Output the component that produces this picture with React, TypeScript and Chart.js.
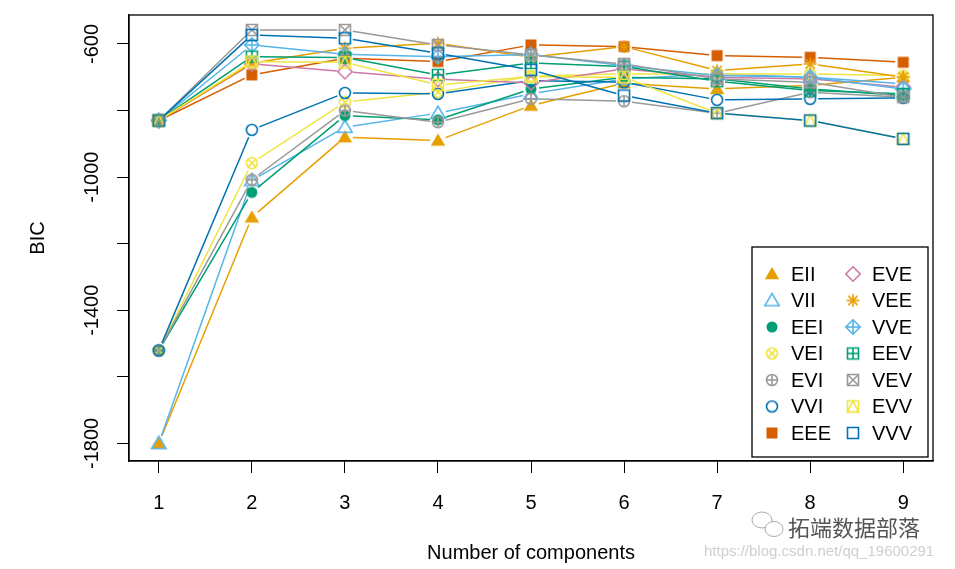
import { useEffect, useRef } from 'react'
import { Chart, registerables } from 'chart.js'

Chart.register(...registerables)

// number of mixture components on the x axis
const components = [1, 2, 3, 4, 5, 6, 7, 8, 9]

// BIC per model
const EII = [-1800, -1121, -880, -890, -785, -718, -735, -725, -700]
const VII = [-1800, -1010, -850, -808, -750, -705, -690, -700, -720]
const EEI = [-1521, -1046, -815, -828, -735, -700, -705, -735, -755]
const VEI = [-1521, -958, -775, -745, -697, -690, -690, -690, -695]
const EVI = [-1521, -1008, -800, -835, -765, -772, -808, -745, -760]
const VVI = [-1521, -858, -747, -750, -710, -715, -768, -765, -762]
const EEE = [-830, -693, -643, -653, -603, -608, -635, -640, -655]
const EVE = [-830, -660, -683, -706, -717, -675, -700, -705, -730]
const VEE = [-830, -658, -613, -598, -640, -608, -680, -660, -700]
const VVE = [-830, -603, -631, -638, -632, -665, -695, -700, -735]
const EEV = [-830, -638, -641, -693, -657, -668, -712, -740, -750]
const VEV = [-830, -558, -558, -603, -633, -660, -705, -715, -760]
const EVV = [-830, -653, -655, -723, -698, -700, -808, -830, -885]
const VVV = [-830, -573, -583, -628, -678, -755, -808, -830, -885]

// only these y ticks get a label (R drops the rest)
const yLabels = [-600, -1000, -1400, -1800]

type Sym =
  | 'triFill' | 'triOpen' | 'dot' | 'circleX' | 'circlePlus' | 'circle'
  | 'squareFill' | 'diamond' | 'asterisk' | 'diamondPlus' | 'squarePlus'
  | 'squareX' | 'squareTri' | 'square'

const models: { name: string; values: number[]; color: string; sym: Sym }[] = [
  { name: 'EII', values: EII, color: '#E69F00', sym: 'triFill' },
  { name: 'VII', values: VII, color: '#56B4E9', sym: 'triOpen' },
  { name: 'EEI', values: EEI, color: '#009E73', sym: 'dot' },
  { name: 'VEI', values: VEI, color: '#F0E442', sym: 'circleX' },
  { name: 'EVI', values: EVI, color: '#999999', sym: 'circlePlus' },
  { name: 'VVI', values: VVI, color: '#0072B2', sym: 'circle' },
  { name: 'EEE', values: EEE, color: '#D55E00', sym: 'squareFill' },
  { name: 'EVE', values: EVE, color: '#CC79A7', sym: 'diamond' },
  { name: 'VEE', values: VEE, color: '#E69F00', sym: 'asterisk' },
  { name: 'VVE', values: VVE, color: '#56B4E9', sym: 'diamondPlus' },
  { name: 'EEV', values: EEV, color: '#009E73', sym: 'squarePlus' },
  { name: 'VEV', values: VEV, color: '#999999', sym: 'squareX' },
  { name: 'EVV', values: EVV, color: '#F0E442', sym: 'squareTri' },
  { name: 'VVV', values: VVV, color: '#0072B2', sym: 'square' },
]

const FONT = '"Liberation Sans", Arial, Helvetica, sans-serif'
const GAP = 8 // R type="b": lines stop short of the points

// R-like plotting symbols on small canvases
function marker(sym: Sym, color: string) {
  const s = 18
  const c = s / 2
  const r = 5.5
  const cv = document.createElement('canvas')
  cv.width = s
  cv.height = s
  const g = cv.getContext('2d')!
  g.strokeStyle = color
  g.fillStyle = color
  g.lineWidth = 1.6
  const line = (x1: number, y1: number, x2: number, y2: number) => {
    g.beginPath(); g.moveTo(x1, y1); g.lineTo(x2, y2); g.stroke()
  }
  const tri = () => {
    g.beginPath()
    g.moveTo(c, c - 7)
    g.lineTo(c + 7.2, c + 5.2)
    g.lineTo(c - 7.2, c + 5.2)
    g.closePath()
  }
  const circ = () => { g.beginPath(); g.arc(c, c, r, 0, Math.PI * 2) }
  const sq = () => { g.beginPath(); g.rect(c - r, c - r, 2 * r, 2 * r) }
  const dia = () => {
    const d = 7.2
    g.beginPath()
    g.moveTo(c, c - d); g.lineTo(c + d, c); g.lineTo(c, c + d); g.lineTo(c - d, c)
    g.closePath()
  }
  switch (sym) {
    case 'triFill': tri(); g.fill(); break
    case 'triOpen': tri(); g.stroke(); break
    case 'dot': circ(); g.fill(); break
    case 'circle': circ(); g.stroke(); break
    case 'circleX': {
      circ(); g.stroke()
      const k = r * 0.707
      line(c - k, c - k, c + k, c + k); line(c - k, c + k, c + k, c - k)
      break
    }
    case 'circlePlus':
      circ(); g.stroke()
      line(c - r, c, c + r, c); line(c, c - r, c, c + r)
      break
    case 'squareFill': g.fillRect(c - r, c - r, 2 * r, 2 * r); break
    case 'square': sq(); g.stroke(); break
    case 'squarePlus':
      sq(); g.stroke()
      line(c - r, c, c + r, c); line(c, c - r, c, c + r)
      break
    case 'squareX':
      sq(); g.stroke()
      line(c - r, c - r, c + r, c + r); line(c - r, c + r, c + r, c - r)
      break
    case 'squareTri':
      sq(); g.stroke()
      g.beginPath(); g.moveTo(c, c - r); g.lineTo(c + r, c + r); g.lineTo(c - r, c + r); g.closePath(); g.stroke()
      break
    case 'diamond': dia(); g.stroke(); break
    case 'diamondPlus':
      dia(); g.stroke()
      line(c - 7.2, c, c + 7.2, c); line(c, c - 7.2, c, c + 7.2)
      break
    case 'asterisk': {
      const k = 6.5
      const d = k * 0.707
      line(c - k, c, c + k, c); line(c, c - k, c, c + k)
      line(c - d, c - d, c + d, c + d); line(c - d, c + d, c + d, c - d)
      break
    }
  }
  return cv
}

export default function App() {
  const canvasRef = useRef<HTMLCanvasElement | null>(null)
  const chartRef = useRef<Chart | null>(null)

  useEffect(() => {
    document.body.style.margin = '0'
    const ctx = canvasRef.current?.getContext('2d')
    if (!ctx) return

    const symbols = models.map((m) => marker(m.sym, m.color))

    // connecting segments with gaps round each point, drawn just before that dataset's points
    const gappedLines = {
      id: 'gappedLines',
      beforeDatasetDraw(chart: Chart, args: any) {
        const pts = args.meta.data as any[]
        const g = chart.ctx
        g.save()
        g.strokeStyle = models[args.index].color
        g.lineWidth = 1.5
        for (let i = 1; i < pts.length; i++) {
          const x0 = pts[i - 1].x, y0 = pts[i - 1].y
          const x1 = pts[i].x, y1 = pts[i].y
          const len = Math.hypot(x1 - x0, y1 - y0)
          if (len <= 2 * GAP) continue
          const ux = (x1 - x0) / len, uy = (y1 - y0) / len
          g.beginPath()
          g.moveTo(x0 + ux * GAP, y0 + uy * GAP)
          g.lineTo(x1 - ux * GAP, y1 - uy * GAP)
          g.stroke()
        }
        g.restore()
      },
    }

    const decor = {
      id: 'decor',
      afterDraw(chart: Chart) {
        const { ctx: g, chartArea: a, scales } = chart
        g.save()
        // box around the plot region
        g.strokeStyle = '#000'
        g.lineWidth = 1.3
        g.strokeRect(a.left, a.top, a.right - a.left, a.bottom - a.top)

        g.fillStyle = '#000'
        g.font = `20px ${FONT}`
        g.textAlign = 'center'
        g.textBaseline = 'middle'
        for (const v of components) {
          g.fillText(String(v), scales.x.getPixelForValue(v), a.bottom + 42)
        }
        for (const v of yLabels) {
          g.save()
          g.translate(a.left - 37, scales.y.getPixelForValue(v))
          g.rotate(-Math.PI / 2)
          g.fillText(String(v), 0, 0)
          g.restore()
        }
        // axis titles
        g.fillText('Number of components', (a.left + a.right) / 2, a.bottom + 92)
        g.save()
        g.translate(38, (a.top + a.bottom) / 2)
        g.rotate(-Math.PI / 2)
        g.fillText('BIC', 0, 0)
        g.restore()

        // legend, two columns in the bottom right corner
        const bx = a.right - 181
        const by = a.bottom - 214
        g.fillStyle = '#fff'
        g.fillRect(bx, by, 176, 210)
        g.strokeStyle = '#000'
        g.lineWidth = 1.3
        g.strokeRect(bx, by, 176, 210)
        g.textAlign = 'left'
        g.fillStyle = '#000'
        models.forEach((m, i) => {
          const col = i < 7 ? 0 : 1
          const row = i % 7
          const sx = bx + 20 + col * 81
          const sy = by + 27 + row * 26.5
          const img = symbols[i]
          g.drawImage(img, sx - img.width / 2, sy - img.height / 2)
          g.fillText(m.name, sx + 19, sy + 1)
        })

        // watermark
        g.strokeStyle = '#aaa'
        g.lineWidth = 1
        g.beginPath(); g.ellipse(762, 520, 10, 8, 0, 0, Math.PI * 2); g.stroke()
        g.fillStyle = '#fff'
        g.beginPath(); g.ellipse(774, 529, 9, 7.5, 0, 0, Math.PI * 2); g.fill(); g.stroke()
        g.fillStyle = '#555'
        g.font = '22px "Noto Sans CJK SC", sans-serif'
        g.fillText('拓端数据部落', 788, 528)
        g.fillStyle = '#cfcfcf'
        g.font = `15px ${FONT}`
        g.fillText('https://blog.csdn.net/qq_19600291', 704, 552)
        g.restore()
      },
    }

    chartRef.current?.destroy()
    chartRef.current = new Chart(ctx, {
      type: 'line',
      data: {
        datasets: models.map((m, i) => ({
          label: m.name,
          data: components.map((x, j) => ({ x, y: m.values[j] })),
          borderColor: m.color,
          backgroundColor: m.color,
          showLine: false,
          pointStyle: symbols[i],
          pointRadius: 7,
          order: models.length - i,
        })),
      },
      options: {
        animation: false,
        responsive: true,
        maintainAspectRatio: false,
        layout: { padding: { left: 0, top: 15, right: 22, bottom: 0 } },
        plugins: { legend: { display: false }, tooltip: { enabled: false } },
        scales: {
          x: {
            type: 'linear',
            min: 0.68,
            max: 9.32,
            grid: { drawOnChartArea: false, tickLength: 12, color: '#000' },
            border: { color: '#000', width: 1.3 },
            ticks: { stepSize: 1, includeBounds: false, display: false },
            afterFit: (s: any) => { s.height = 108 },
          },
          y: {
            type: 'linear',
            min: -1853,
            max: -513,
            grid: { drawOnChartArea: false, tickLength: 12, color: '#000' },
            border: { color: '#000', width: 1.3 },
            ticks: { stepSize: 200, includeBounds: false, display: false },
            afterFit: (s: any) => { s.width = 129 },
          },
        },
      },
      plugins: [gappedLines, decor],
    })

    return () => chartRef.current?.destroy()
  }, [])

  return (
    <div style={{ position: 'relative', width: 955, height: 569, background: '#fff' }}>
      <canvas ref={canvasRef} />
    </div>
  )
}
